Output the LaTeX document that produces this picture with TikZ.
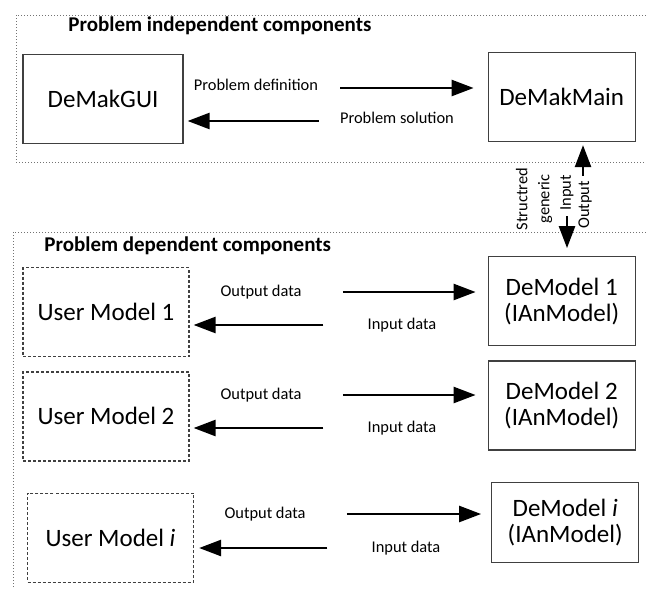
\documentclass[tikz,border=0pt]{standalone}
\usepackage{fontspec}
\setmainfont{Carlito}
\usetikzlibrary{arrows.meta,positioning}

\begin{document}
\begin{tikzpicture}[
  x=0.5pt, y=0.5pt,
  font=\fontsize{8.2}{11}\selectfont,
  box/.style={draw=black!75, line width=0.6pt, align=center, inner sep=0pt,
    font=\fontsize{12.5}{13}\selectfont, minimum height=44.5pt},
  mainbox/.style={box, minimum width=73.5pt},
  userbox/.style={box, dash pattern=on 1.5pt off 1pt, minimum width=83pt},
  heading/.style={font=\fontsize{10.5}{12}\selectfont\bfseries, anchor=west, inner sep=0pt},
  lbl/.style={inner sep=1pt},
  vlbl/.style={lbl, rotate=90, align=center},
  dotframe/.style={draw=black!55, line width=0.5pt, dash pattern=on 0.5pt off 1pt},
  arrow/.style={-{Triangle[length=11pt,width=8pt]}, line width=1.25pt},
  fwd/.style={arrow, shorten <=19.5pt, shorten >=6pt},
  back/.style={arrow, shorten <=21pt, shorten >=2pt}
]
\useasboundingbox (0,0) rectangle (646,-589);

% group frames
\draw[dotframe] (646,-15) -- (16,-15) -- (16,-162) -- (646,-162);
\draw[dotframe] (646,-232) -- (13,-232) -- (13,-589);
\node[heading] (indep) at (68,-26) {Problem independent components};
\node[heading] (dep) at (44,-246) {Problem dependent components};

\node[mainbox, minimum width=80pt] (gui) at (103,-99) {DeMakGUI};
\node[mainbox, right=152pt of gui, yshift=1pt] (main) {DeMakMain};

\node[mainbox, below=57pt of main] (model1) {DeModel 1\\(IAnModel)};
\node[mainbox, below=7pt of model1] (model2) {DeModel 2\\(IAnModel)};
\node[mainbox, below=15.5pt of model2, xshift=1.75pt, minimum height=40pt] (modeli) {DeModel \textit{i}\\(IAnModel)};

\node[userbox, left=149pt of model1, yshift=-5.5pt] (user1) {User Model 1};
\node[userbox, left=149pt of model2, yshift=-5.5pt] (user2) {User Model 2};
\node[userbox, left=148.5pt of modeli, yshift=-7.75pt] (useri) {User Model \textit{i}};

% arrow labels
\node[lbl] (deflbl) at (256,-85) {Problem definition};
\node[lbl] (sollbl) at (397,-118) {Problem solution};
\node[lbl] (out1) at (261,-292) {Output data};
\node[lbl] (in1) at (402,-325) {Input data};
\node[lbl] (out2) at (261,-395) {Output data};
\node[lbl] (in2) at (402,-428) {Input data};
\node[lbl] (outi) at (265,-514) {Output data};
\node[lbl] (ini) at (406,-548) {Input data};

\node[vlbl] (structlbl) at (534,-199) {Structred\\generic};
\node[vlbl] (inlbl) at (567,-193) {Input};
\node[vlbl] (outlbl) at (585,-205) {Output};

\draw[arrow, shorten <=10pt, shorten >=7pt] ([yshift=-1.5pt]deflbl.east) -- ([yshift=-1.5pt]deflbl.east -| main.west);
\draw[arrow, shorten <=9.5pt, shorten >=2pt] ([yshift=-1.5pt]sollbl.west) -- ([yshift=-1.5pt]sollbl.west -| gui.east);

\draw[fwd] (out1.east) -- (out1.east -| model1.west);
\draw[back] (in1.west) -- (in1.west -| user1.east);
\draw[fwd] (out2.east) -- (out2.east -| model2.west);
\draw[back] (in2.west) -- (in2.west -| user2.east);
\draw[fwd, shorten >=5pt] (outi.east) -- (outi.east -| modeli.west);
\draw[back, shorten >=2.5pt] (ini.west) -- (ini.west -| useri.east);

\draw[arrow, shorten <=1.5pt, shorten >=4pt] (inlbl.west) -- (inlbl.west |- model1.north);
\draw[arrow, shorten <=1.5pt, shorten >=1.5pt] ([xshift=-1pt]outlbl.east) -- ([xshift=-1pt]outlbl.east |- main.south);
\end{tikzpicture}
\end{document}
